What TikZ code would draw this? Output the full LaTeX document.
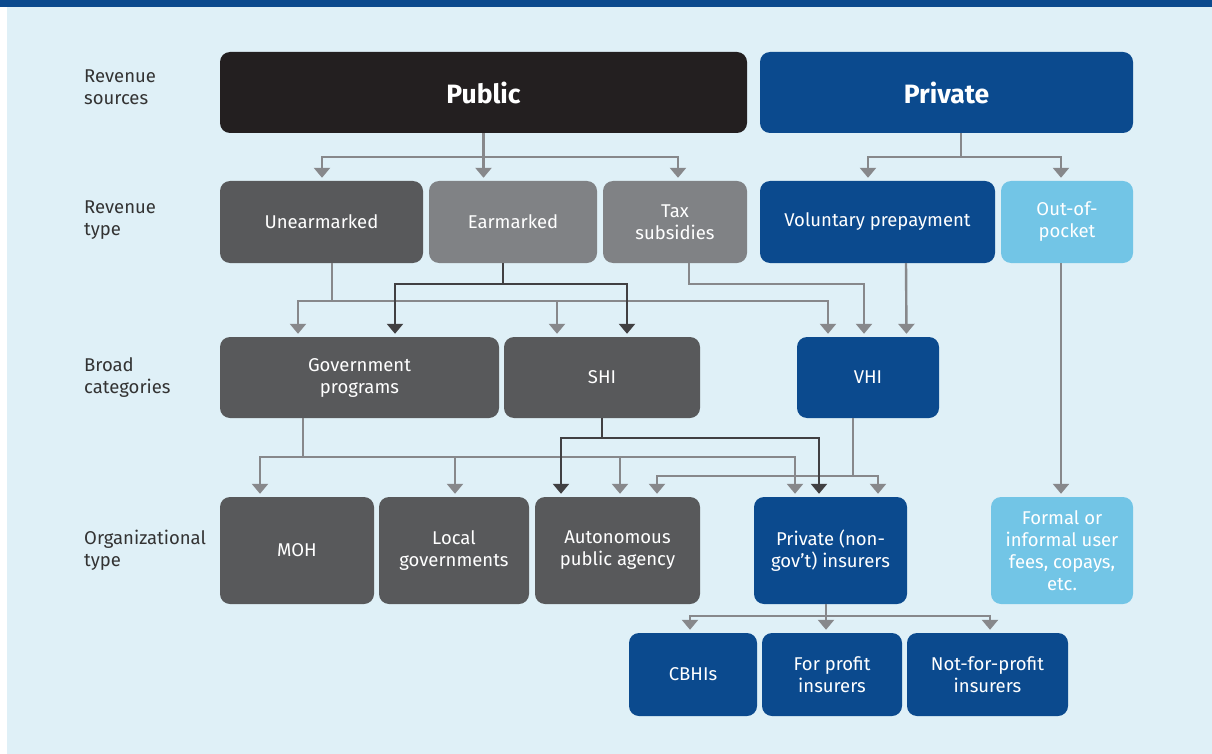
\documentclass[tikz,border=0pt]{standalone}
\usepackage{fontspec}
\setmainfont{Fira Sans}
\usetikzlibrary{arrows.meta, calc, positioning}
\definecolor{pageblue}{HTML}{DFF0F7}
\definecolor{deepblue}{HTML}{0B4A8E}
\definecolor{skyblue}{HTML}{72C5E6}
\definecolor{inkblack}{HTML}{231F20}
\definecolor{darkgray}{HTML}{58595B}
\definecolor{midgray}{HTML}{808285}
\definecolor{linegray}{HTML}{87888B}
\definecolor{linedark}{HTML}{414042}
\definecolor{labelink}{HTML}{333333}

\tikzset{
    box/.style={rounded corners=10pt, text=white, align=center, inner sep=0pt,
        font=\fontsize{18.5}{22}\selectfont},
    pubbox/.style={box, fill=inkblack, font=\fontsize{26.5}{30}\selectfont\bfseries},
    privbox/.style={box, fill=deepblue, font=\fontsize{26.5}{30}\selectfont\bfseries},
    dgbox/.style={box, fill=darkgray},
    mgbox/.style={box, fill=midgray},
    bluebox/.style={box, fill=deepblue},
    skybox/.style={box, fill=skyblue},
    rowlabel/.style={anchor=west, align=left, text=labelink, inner sep=0pt,
        font=\fontsize{18.5}{22}\selectfont},
    garr/.style={draw=linegray, line width=2.4pt, -{Triangle[width=16pt,length=10pt]}, shorten >=3pt},
    darr/.style={draw=linedark, line width=2.4pt, -{Triangle[width=16pt,length=10pt]}, shorten >=3pt},
}

\begin{document}
\begin{tikzpicture}[x=1pt, y=-1pt]
    \useasboundingbox (0,0) rectangle (1212,754);
    \fill[pageblue] (7,7) rectangle (1212,754);
    \fill[deepblue] (0,0) rectangle (1212,7);

    % row labels
    \node[rowlabel] (lsrc) at (84,87) {Revenue\\sources};
    \node[rowlabel] (ltype) at (84,220) {Revenue\\type};
    \node[rowlabel] (lbroad) at (84,378) {Broad\\categories};
    \node[rowlabel] (lorg) at (84,550) {Organizational\\type};

    % revenue sources
    \node[pubbox, minimum width=527pt, minimum height=81pt] (public) at (483.5,92.5) {Public};
    \node[privbox, minimum width=373pt, minimum height=81pt] (private) at (946.5,92.5) {Private};

    % revenue type
    \node[dgbox, minimum width=203pt, minimum height=82pt] (unear) at (321.5,222) {Unearmarked};
    \node[mgbox, minimum width=168pt, minimum height=82pt] (earm) at (513,222) {Earmarked};
    \node[mgbox, minimum width=144pt, minimum height=82pt] (tax) at (675,222) {Tax\\subsidies};
    \node[bluebox, minimum width=235pt, minimum height=82pt] (volpre) at (877.5,222) {Voluntary prepayment};
    \node[skybox, minimum width=132pt, minimum height=82pt] (oop) at (1067,222) {Out-of-\\pocket};

    % broad categories
    \node[dgbox, minimum width=279pt, minimum height=81pt] (gov) at (359.5,377.5) {Government\\programs};
    \node[dgbox, minimum width=196pt, minimum height=81pt] (shi) at (602,377.5) {SHI};
    \node[bluebox, minimum width=142pt, minimum height=81pt] (vhi) at (868,377.5) {VHI};

    % organizational type
    \node[dgbox, minimum width=154pt, minimum height=107pt] (moh) at (297,550.5) {MOH};
    \node[dgbox, minimum width=150pt, minimum height=107pt] (local) at (454,550.5) {Local\\governments};
    \node[dgbox, minimum width=165pt, minimum height=107pt] (auto) at (617.5,550.5) {Autonomous\\public agency};
    \node[bluebox, minimum width=153pt, minimum height=107pt] (pins) at (830.5,550.5) {Private (non-\\gov't) insurers};
    \node[skybox, minimum width=142pt, minimum height=107pt] (fees) at (1062,550.5) {Formal or\\informal user\\fees, copays,\\etc.};

    % private insurer types
    \node[bluebox, minimum width=128pt, minimum height=83pt] (cbhi) at (693,674.5) {CBHIs};
    \node[bluebox, minimum width=140pt, minimum height=83pt] (forp) at (832,674.5) {For profit\\insurers};
    \node[bluebox, minimum width=161pt, minimum height=83pt] (nfp) at (987.5,674.5) {Not-for-profit\\insurers};

    % sources -> type
    \draw[garr] (public.south) -- ++(0,24) -| ([xshift=0.5pt]unear.north);
    \draw[garr] (public.south) -- (public.south |- earm.north);
    \draw[garr] (public.south) -- ++(0,24) -| ([xshift=3pt]tax.north);
    \draw[garr] ([xshift=14.5pt]private.south) -- ++(0,24) -| ([xshift=-9.5pt]volpre.north);
    \draw[garr] ([xshift=14.5pt]private.south) -- ++(0,24) -| ([xshift=-6pt]oop.north);

    % type -> broad
    \draw[garr] ([xshift=10.5pt]unear.south) -- ++(0,38) -| ([xshift=-61.5pt]gov.north);
    \draw[garr] ([xshift=10.5pt]unear.south) -- ++(0,38) -| ([xshift=-45pt]shi.north);
    \draw[garr] ([xshift=10.5pt]unear.south) -- ++(0,38) -| ([xshift=-40pt]vhi.north);
    \draw[garr] ([xshift=14pt]tax.south) -- ++(0,21) -| ([xshift=-4pt]vhi.north);
    \draw[garr] ([xshift=28.5pt]volpre.south) -- ([xshift=38.5pt]vhi.north);
    \draw[darr] ([xshift=-10pt]earm.south) -- ++(0,21) -| ([xshift=35.5pt]gov.north);
    \draw[darr] ([xshift=-10pt]earm.south) -- ++(0,21) -| ([xshift=25pt]shi.north);
    \draw[garr] ([xshift=-6pt]oop.south) coordinate (oopb) -- (oopb |- fees.north);

    % broad -> organizational
    \draw[garr] ([xshift=-56.5pt]gov.south) -- ++(0,39) -| ([xshift=-37pt]moh.north);
    \draw[garr] ([xshift=-56.5pt]gov.south) -- ++(0,39) -| ([xshift=1pt]local.north);
    \draw[garr] ([xshift=-56.5pt]gov.south) -- ++(0,39) -| ([xshift=2.5pt]auto.north);
    \draw[garr] ([xshift=-56.5pt]gov.south) -- ++(0,39) -| ([xshift=-35.5pt]pins.north);
    \draw[garr] ([xshift=-15pt]vhi.south) -- ++(0,58) -| ([xshift=39.5pt]auto.north);
    \draw[garr] ([xshift=-15pt]vhi.south) -- ++(0,58) -| ([xshift=47.5pt]pins.north);
    \draw[darr] (shi.south) -- ++(0,20) -| ([xshift=-56.5pt]auto.north);
    \draw[darr] (shi.south) -- ++(0,20) -| ([xshift=-11.5pt]pins.north);

    % private insurers -> kinds
    \draw[garr] ([xshift=-4.5pt]pins.south) -- ++(0,12) -| ([xshift=-3pt]cbhi.north);
    \draw[garr] ([xshift=-4.5pt]pins.south) -- ++(0,12) -| ([xshift=-6pt]forp.north);
    \draw[garr] ([xshift=-4.5pt]pins.south) -- ++(0,12) -| ([xshift=2.5pt]nfp.north);
\end{tikzpicture}
\end{document}
